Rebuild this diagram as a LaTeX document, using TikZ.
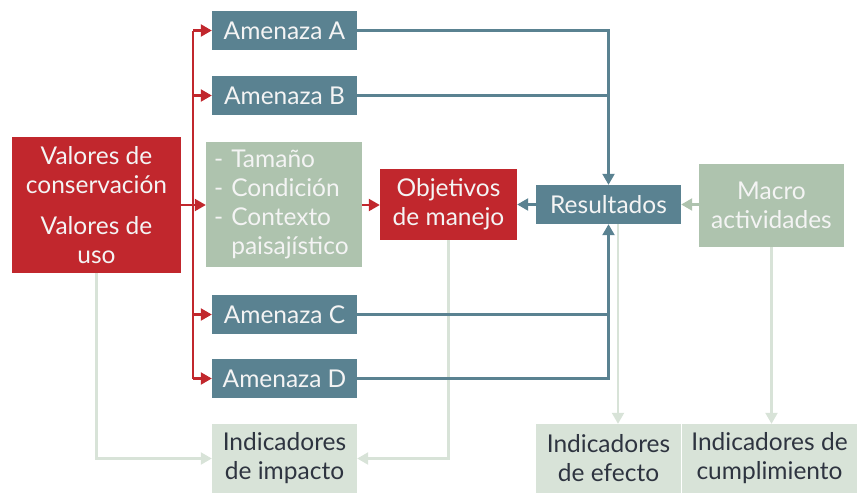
\documentclass[tikz,border=0pt]{standalone}
\usepackage{fontspec}
\setmainfont{Lato}
\usetikzlibrary{arrows.meta}

\definecolor{rojo}{HTML}{C1272D}
\definecolor{azul}{HTML}{5A8291}
\definecolor{verde}{HTML}{AEC3AE}
\definecolor{palido}{HTML}{D8E3D8}
\definecolor{tinta}{HTML}{2E3440}
\definecolor{blanco}{HTML}{F4F4F4}

\tikzset{
    caja/.style={inner sep=0pt, align=center, text=blanco,
        font=\fontsize{24.5}{29}\selectfont},
    cajaroja/.style={caja, fill=rojo},
    cajaazul/.style={caja, fill=azul, minimum width=145, minimum height=39},
    cajaverde/.style={caja, fill=verde},
    indicador/.style={caja, fill=palido, text=tinta, minimum height=69},
    flecharoja/.style={draw=rojo, line width=2.2pt,
        -{Triangle[length=11pt,width=12pt]}},
    flechaazul/.style={draw=azul, line width=2.2pt,
        -{Triangle[length=11pt,width=12pt]}},
    flechaverde/.style={draw=verde, line width=2.2pt,
        -{Triangle[length=11pt,width=12pt]}},
    flechapalida/.style={draw=palido, line width=2.2pt,
        -{Triangle[length=11pt,width=12pt]}}
}

\begin{document}
\begin{tikzpicture}[x=1pt, y=-1pt]
    \useasboundingbox (0,0) rectangle (858,493);

    % Boxes
    \node[cajaroja, minimum width=169, minimum height=136] (val) at (96.5, 205)
        {Valores de\\conservación\\[12pt]Valores de\\uso};
    \node[cajaazul] (amA) at (284.5, 30.5) {Amenaza A};
    \node[cajaazul] (amB) at (284.5, 95.5) {Amenaza B};
    \node[cajaverde, text width=140, inner xsep=8pt, minimum height=125,
        align=left] (lista) at (284, 204.5)
        {- Tamaño\\- Condición\\- Contexto\\\phantom{- }paisajístico};
    \node[cajaazul] (amC) at (284.5, 314.5) {Amenaza C};
    \node[cajaazul] (amD) at (284.5, 378.5) {Amenaza D};
    \node[cajaroja, minimum width=137, minimum height=71] (obj) at (448.5, 204.5)
        {Objetivos\\de manejo};
    \node[cajaazul] (res) at (608.5, 204.5) {Resultados};
    \node[cajaverde, minimum width=145, minimum height=83] (mac) at (771.5, 205.5)
        {Macro\\actividades};

    % Indicators
    \node[indicador, minimum width=145] (imp) at (284.5, 458.5)
        {Indicadores\\de impacto};
    \node[indicador, minimum width=145] (efe) at (608.5, 458.5)
        {Indicadores\\de efecto};
    \node[indicador, minimum width=175] (cum) at (769.5, 458.5)
        {Indicadores de\\cumplimiento};

    % Pale connectors to the indicators
    \draw[flechapalida] (val.south) |- (imp.west);
    \draw[flechapalida] (obj.south) |- (imp.east);
    \draw[flechapalida] ([xshift=9.5pt]res.south) -- ([xshift=9.5pt]res.south |- efe.north);
    \draw[flechapalida] (mac.south) -- (mac.south |- cum.north);

    % Red branching from the values
    \coordinate (rama) at (193, 205);
    \draw[draw=rojo, line width=2.2pt] (rama |- amA.west) -- (rama |- amD.west);
    \draw[draw=rojo, line width=2.2pt] (val.east |- rama) -- (rama);
    \draw[flecharoja] (rama) -- (lista.west |- rama);
    \draw[flecharoja] (rama |- amA.west) -- (amA.west);
    \draw[flecharoja] (rama |- amB.west) -- (amB.west);
    \draw[flecharoja] (rama |- amC.west) -- (amC.west);
    \draw[flecharoja] (rama |- amD.west) -- (amD.west);
    \draw[flecharoja] (lista.east |- rama) -- (obj.west |- rama);

    % Threats to results
    \draw[flechaazul] (amA.east) -| (res.north);
    \draw[draw=azul, line width=2.2pt] (amB.east) -- (amB.east -| res.north);
    \draw[flechaazul] (amD.east) -| (res.south);
    \draw[draw=azul, line width=2.2pt] (amC.east) -- (amC.east -| res.south);
    \draw[flechaazul] (res.west) -- (obj.east);
    \draw[flechaverde] (mac.west |- res.east) -- (res.east);

\end{tikzpicture}
\end{document}
